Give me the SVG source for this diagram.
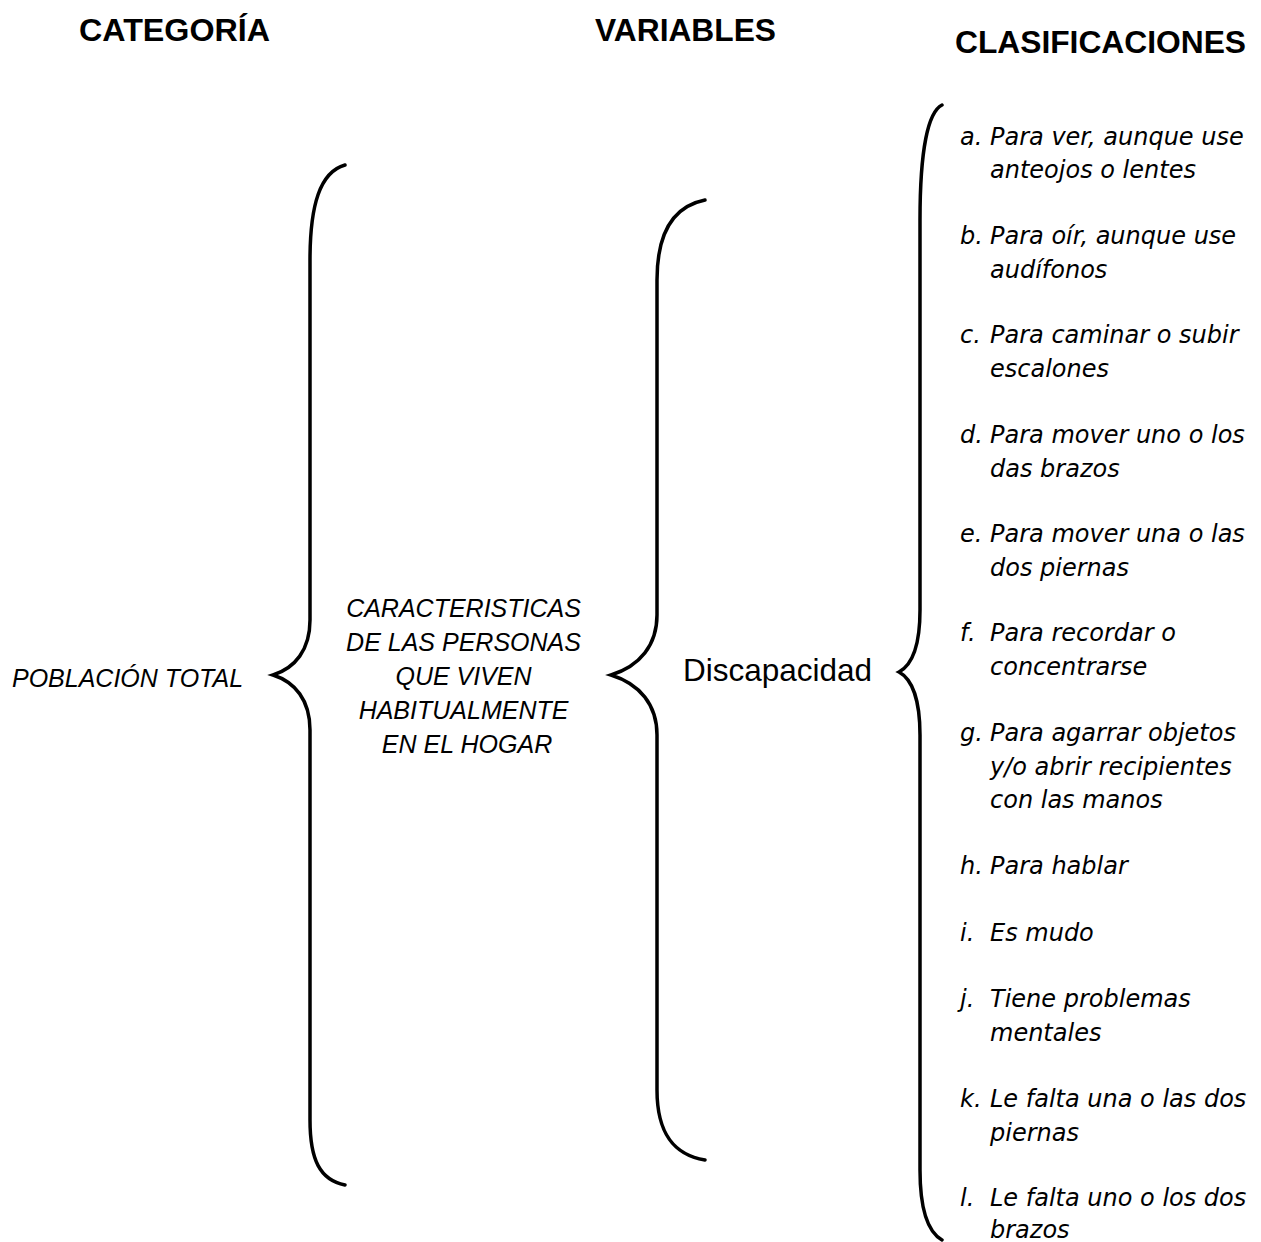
<svg xmlns="http://www.w3.org/2000/svg" width="1261" height="1242" viewBox="0 0 1261 1242">
<style>
.h{font-family:"Liberation Sans",Arial,sans-serif;font-weight:bold;font-size:31px;fill:#000}
.t{font-family:"Liberation Sans",Arial,sans-serif;font-style:italic;font-size:25px;fill:#000}
.c{font-family:"DejaVu Sans","Liberation Sans",Arial,sans-serif;font-style:oblique;font-size:24px;fill:#000}
.n{font-family:"Liberation Sans",Arial,sans-serif;font-size:31.5px;fill:#000}
.b{fill:none;stroke:#000;stroke-width:3.5;stroke-linecap:round}
</style>
<rect width="1261" height="1242" fill="#fff"/>
<g id="headers">
<text class="h" x="79" y="41" textLength="191" lengthAdjust="spacingAndGlyphs">CATEGORÍA</text>
<text class="h" x="595" y="41" textLength="181" lengthAdjust="spacingAndGlyphs">VARIABLES</text>
<text class="h" x="955" y="53" textLength="291" lengthAdjust="spacingAndGlyphs">CLASIFICACIONES</text>
</g>
<g id="connectors">
<path class="b" d="M345,165 C320,172 310,205 310,260 L310,620 C310,650 295,668 273,675 C295,682 310,700 310,730 L310,1120 C310,1160 320,1180 345,1185"/>
<path class="b" d="M705,200 C675,206 657,230 657,280 L657,615 C657,645 640,666 611,675 C640,684 657,705 657,735 L657,1090 C657,1135 675,1155 705,1160"/>
<path class="b" d="M942,105 C928,112 920,150 920,220 L920,610 C920,645 912,665 899,672 C912,679 920,700 920,735 L920,1170 C920,1210 928,1232 942,1240"/>
</g>
<g id="node-poblacion">
<text class="t" x="12" y="687">POBLACIÓN TOTAL</text>
</g>
<g id="node-caracteristicas">
<text class="t" text-anchor="middle">
<tspan x="467" y="617">CARACTERISTICAS</tspan>
<tspan x="467" y="651">DE LAS PERSONAS</tspan>
<tspan x="467" y="685">QUE VIVEN</tspan>
<tspan x="467" y="719">HABITUALMENTE</tspan>
<tspan x="467" y="753">EN EL HOGAR</tspan>
</text>
</g>
<g id="node-discapacidad">
<text class="n" x="683" y="681">Discapacidad</text>
</g>
<g id="node-clasificaciones">
<text class="c"><tspan x="960" y="145">a.</tspan><tspan x="990" y="145">Para ver, aunque use</tspan><tspan x="990" y="178">anteojos o lentes</tspan></text>
<text class="c"><tspan x="960" y="244">b.</tspan><tspan x="990" y="244">Para oír, aunque use</tspan><tspan x="990" y="278">audífonos</tspan></text>
<text class="c"><tspan x="960" y="343">c.</tspan><tspan x="990" y="343">Para caminar o subir</tspan><tspan x="990" y="377">escalones</tspan></text>
<text class="c"><tspan x="960" y="443">d.</tspan><tspan x="990" y="443">Para mover uno o los</tspan><tspan x="990" y="477">das brazos</tspan></text>
<text class="c"><tspan x="960" y="542">e.</tspan><tspan x="990" y="542">Para mover una o las</tspan><tspan x="990" y="576">dos piernas</tspan></text>
<text class="c"><tspan x="960" y="641">f.</tspan><tspan x="990" y="641">Para recordar o</tspan><tspan x="990" y="675">concentrarse</tspan></text>
<text class="c"><tspan x="960" y="741">g.</tspan><tspan x="990" y="741">Para agarrar objetos</tspan><tspan x="990" y="775">y/o abrir recipientes</tspan><tspan x="990" y="808">con las manos</tspan></text>
<text class="c"><tspan x="960" y="874">h.</tspan><tspan x="990" y="874">Para hablar</tspan></text>
<text class="c"><tspan x="960" y="941">i.</tspan><tspan x="990" y="941">Es mudo</tspan></text>
<text class="c"><tspan x="960" y="1007">j.</tspan><tspan x="990" y="1007">Tiene problemas</tspan><tspan x="990" y="1041">mentales</tspan></text>
<text class="c"><tspan x="960" y="1107">k.</tspan><tspan x="990" y="1107">Le falta una o las dos</tspan><tspan x="990" y="1141">piernas</tspan></text>
<text class="c"><tspan x="960" y="1206">l.</tspan><tspan x="990" y="1206">Le falta uno o los dos</tspan><tspan x="990" y="1238">brazos</tspan></text>
</g>
</svg>
